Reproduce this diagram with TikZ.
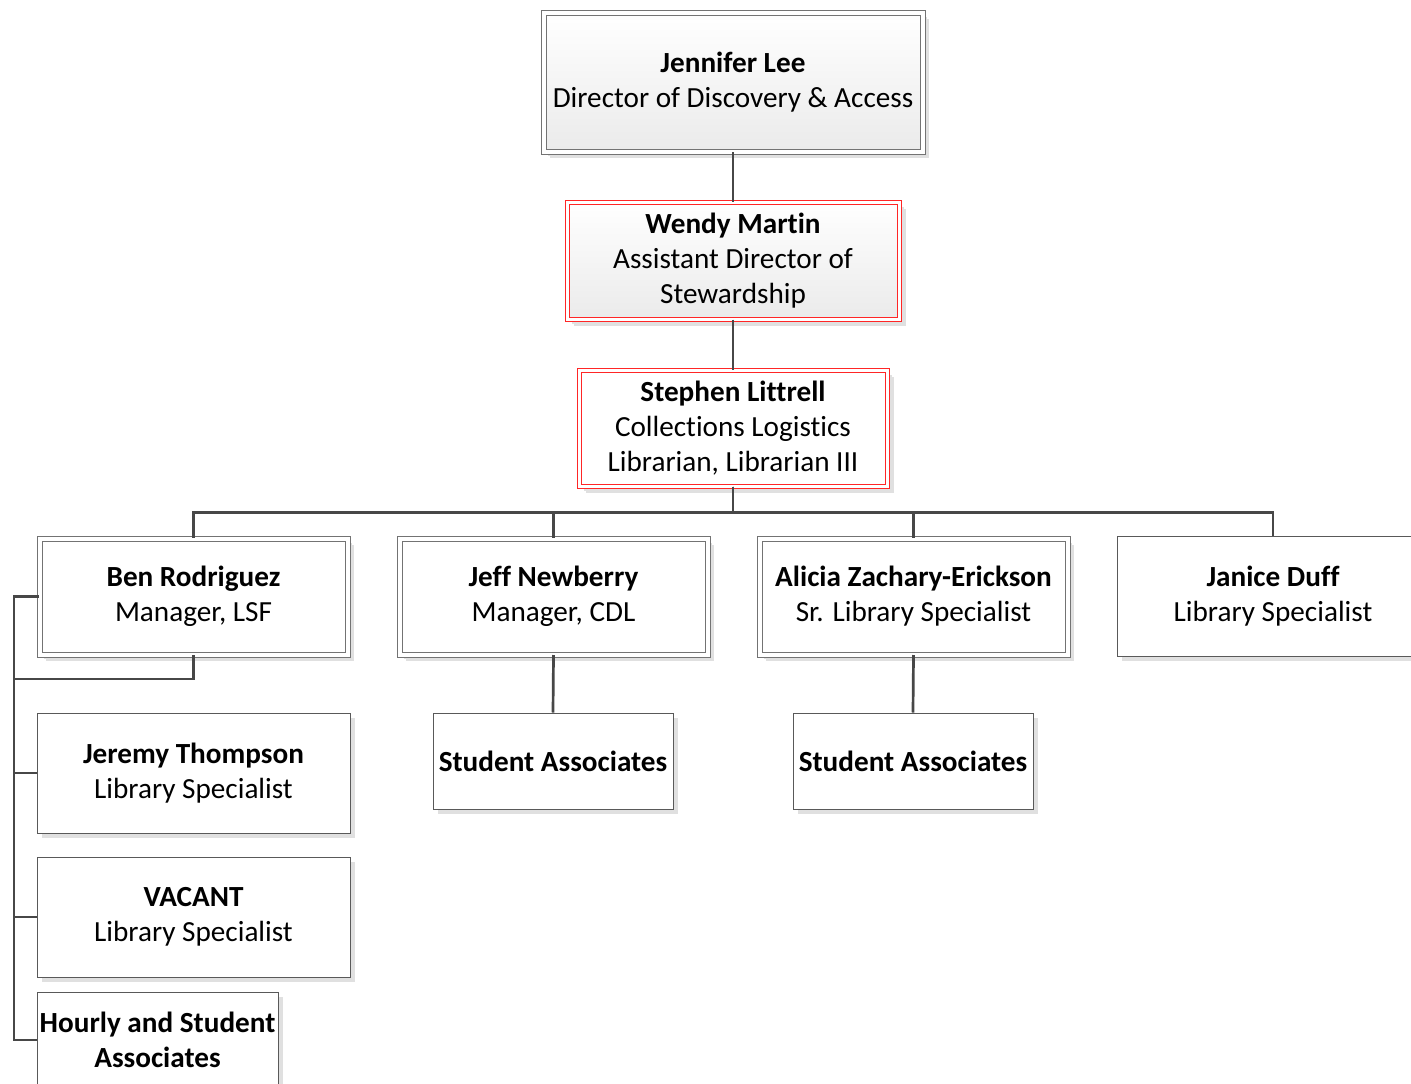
\documentclass[tikz,border=0pt]{standalone}
\usepackage{fontspec}
\setmainfont{Carlito}[Ligatures=NoCommon]
\usetikzlibrary{shadows}
\begin{document}
\begin{tikzpicture}[x=1pt,y=-1pt,
  box/.style={rectangle, draw=black!65, line width=1pt, fill=white, align=center,
    inner sep=0pt, font=\fontsize{29.2}{35}\selectfont,
    drop shadow={shadow xshift=4.5pt, shadow yshift=-4.5pt, fill=black!12, opacity=1}},
  dbox/.style={box, draw=black!55, double=white, double distance=4pt, line width=1pt,
    drop shadow={shadow xshift=6.5pt, shadow yshift=-6.5pt, fill=black!12, opacity=1}},
  rbox/.style={dbox, draw=red!85!white, double distance=3pt},
  grad/.style={top color=white, bottom color=black!8},
  conn/.style={draw=black!72, line width=2.7pt, line join=miter}
]
\useasboundingbox (0,0) rectangle (1411,1084);
\clip (0,0) rectangle (1411,1084);

\node[dbox, grad, minimum width=379pt, minimum height=139pt] (lee) at (733,82)
  {\textbf{Jennifer Lee}\\Director of Discovery \& Access};
\node[rbox, grad, minimum width=332pt, minimum height=117pt] (martin) at (733,260.5)
  {\textbf{Wendy Martin}\\Assistant Director of\\Stewardship};
\node[rbox, minimum width=308pt, minimum height=116pt] (littrell) at (733,428)
  {\textbf{Stephen Littrell}\\Collections Logistics\\Librarian, Librarian III};

\node[dbox, minimum width=308pt, minimum height=116pt] (ben) at (193.5,596.5)
  {\textbf{Ben Rodriguez}\\Manager, LSF};
\node[dbox, minimum width=308pt, minimum height=116pt] (jeff) at (553.5,596.5)
  {\textbf{Jeff Newberry}\\Manager, CDL};
\node[dbox, minimum width=308pt, minimum height=116pt] (alicia) at (913.5,596.5)
  {\textbf{Alicia Zachary-Erickson}\\Sr. Library Specialist};
\node[box, minimum width=312pt, minimum height=120pt] (janice) at (1273,596)
  {\textbf{Janice Duff}\\Library Specialist};

\node[box, minimum width=240pt, minimum height=96pt] (stud1) at (553,761)
  {\textbf{Student Associates}};
\node[box, minimum width=240pt, minimum height=96pt] (stud2) at (913,761)
  {\textbf{Student Associates}};

\node[box, minimum width=313pt, minimum height=120pt] (jeremy) at (193.5,773)
  {\textbf{Jeremy Thompson}\\Library Specialist};
\node[box, minimum width=313pt, minimum height=120pt] (vacant) at (193.5,917)
  {\textbf{VACANT}\\Library Specialist};
\node[box, minimum width=241pt, minimum height=96pt] (hourly) at (157.5,1040)
  {\textbf{Hourly and Student}\\\textbf{Associates}};

\coordinate (spine) at (14,596.5);
\coordinate (benlow) at (14,679);

\draw[conn] (lee.south) -- (martin.north);
\draw[conn] (martin.south) -- (littrell.north);
\draw[conn] (littrell.south) -- ++(0,26) -| (ben.north);
\draw[conn] (littrell.south) -- ++(0,26) -| (janice.north);
\draw[conn] (littrell.south) -- ++(0,26) -| (jeff.north);
\draw[conn] (littrell.south) -- ++(0,26) -| (alicia.north);
\draw[conn] (jeff.south) -- (stud1.north);
\draw[conn] (alicia.south) -- (stud2.north);
\draw[conn] (ben.west) -- (spine) |- (hourly.west);
\draw[conn] (ben.south) |- (benlow);
\draw[conn] (jeremy.west) -- (jeremy.west -| spine);
\draw[conn] (vacant.west) -- (vacant.west -| spine);
\end{tikzpicture}
\end{document}
